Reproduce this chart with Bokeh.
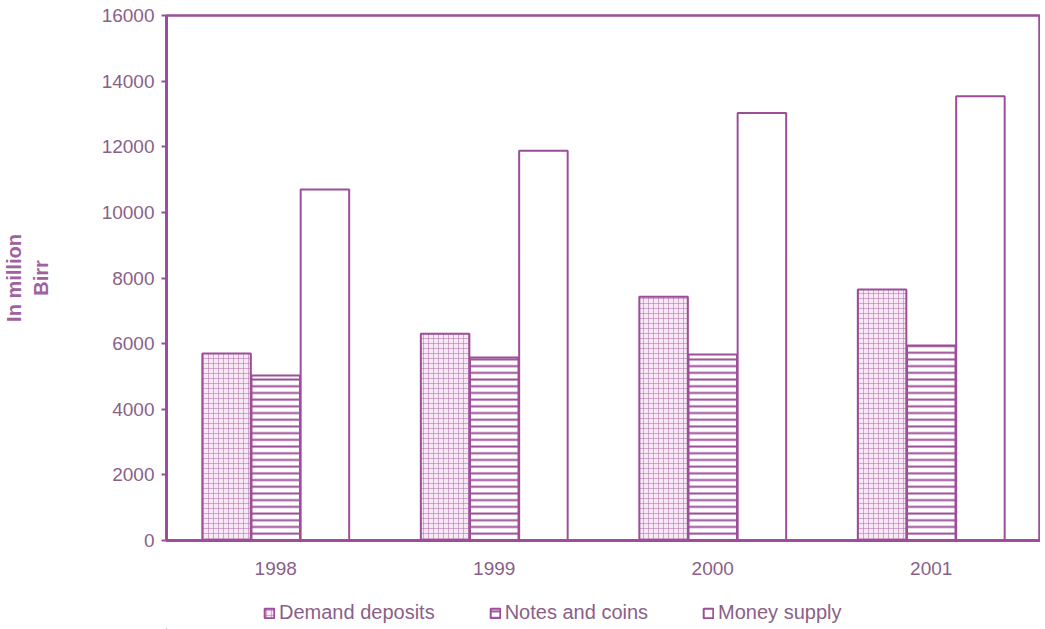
from bokeh.plotting import figure
from bokeh.layouts import column
from bokeh.models import FactorRange, Legend, LegendItem, ColumnDataSource, SingleIntervalTicker, Range1d
from bokeh.transform import dodge
from bokeh.embed import file_html
from bokeh.resources import INLINE

years = ["1998", "1999", "2000", "2001"]
demand_deposits = [5700, 6300, 7430, 7650]
notes_and_coins = [5030, 5580, 5670, 5940]
money_supply = [10700, 11880, 13030, 13540]
series_names = ["Demand deposits", "Notes and coins", "Money supply"]

src = ColumnDataSource(dict(year=years, dd=demand_deposits, nc=notes_and_coins, ms=money_supply))

PURPLE = "#9c4e98"
TEXT = "#8a5f88"
FONT = "Liberation Sans"

styles = [
    dict(fill_color="#f7e8f5", line_color=PURPLE, line_width=2,
         hatch_pattern="+", hatch_color="#b57aae", hatch_scale=5, hatch_weight=1, hatch_alpha=0.6),
    dict(fill_color="white", line_color=PURPLE, line_width=2,
         hatch_pattern="-", hatch_color=PURPLE, hatch_scale=6.7, hatch_weight=2),
    dict(fill_color="white", line_color=PURPLE, line_width=2),
]

p = figure(x_range=FactorRange(*years), y_range=(0, 16000), width=1040, height=580,
           output_backend="svg", toolbar_location=None,
           min_border_left=161, min_border_top=15, min_border_right=0, min_border_bottom=40)

bw = 0.222
for col, off, st in zip(["dd", "nc", "ms"], [-0.225, 0.0, 0.225], styles):
    p.vbar(x=dodge("year", off, range=p.x_range), top=col, width=bw, source=src, **st)

p.xgrid.visible = False
p.ygrid.visible = False
p.outline_line_color = PURPLE
p.outline_line_width = 2.5

p.yaxis.ticker = SingleIntervalTicker(interval=2000)
p.yaxis.axis_line_color = PURPLE
p.yaxis.axis_line_width = 3
p.yaxis.major_tick_line_color = PURPLE
p.yaxis.major_tick_line_width = 2
p.yaxis.major_tick_out = 5
p.yaxis.major_tick_in = 0
p.yaxis.minor_tick_line_color = None
p.yaxis.major_label_text_font = FONT
p.yaxis.major_label_text_font_size = "19px"
p.yaxis.major_label_text_color = TEXT
p.yaxis.major_label_standoff = 7
p.yaxis.axis_label = "In million\nBirr"
p.yaxis.axis_label_text_font = FONT
p.yaxis.axis_label_text_font_style = "bold"
p.yaxis.axis_label_text_font_size = "20px"
p.yaxis.axis_label_text_color = "#a0629e"
p.yaxis.axis_label_text_line_height = 1.2
p.yaxis.axis_label_standoff = 47

p.xaxis.axis_line_color = PURPLE
p.xaxis.axis_line_width = 3
p.xaxis.major_tick_line_color = None
p.xaxis.minor_tick_line_color = None
p.xaxis.major_label_text_font = FONT
p.xaxis.major_label_text_font_size = "19px"
p.xaxis.major_label_text_color = TEXT
p.xaxis.major_label_standoff = 15

# legend strip below the chart (its frame is aligned with the chart's frame)
lg = figure(width=1040, height=49, output_backend="svg", toolbar_location=None,
            x_range=Range1d(0, 1), y_range=Range1d(0, 1),
            x_axis_type=None, y_axis_type=None, min_border=0)
lg.outline_line_color = None
lg.xgrid.visible = False
lg.ygrid.visible = False
items = []
for name, st in zip(series_names, styles):
    # stand-in renderer placed far outside the visible range; only its legend glyph is shown
    r = lg.vbar(x=[-100], top=[-100], bottom=[-101], width=0.1, **st)
    items.append(LegendItem(label=name, renderers=[r]))
legend = Legend(items=items, orientation="horizontal", location=(97, 5), margin=0, padding=4,
                glyph_width=12, glyph_height=12, label_standoff=4, spacing=54,
                label_text_font=FONT, label_text_font_size="20px", label_text_color=TEXT,
                border_line_color=None, background_fill_alpha=0)
lg.add_layout(legend)

layout = column(p, lg, spacing=0)
open("out.html", "w").write(file_html(layout, INLINE))
